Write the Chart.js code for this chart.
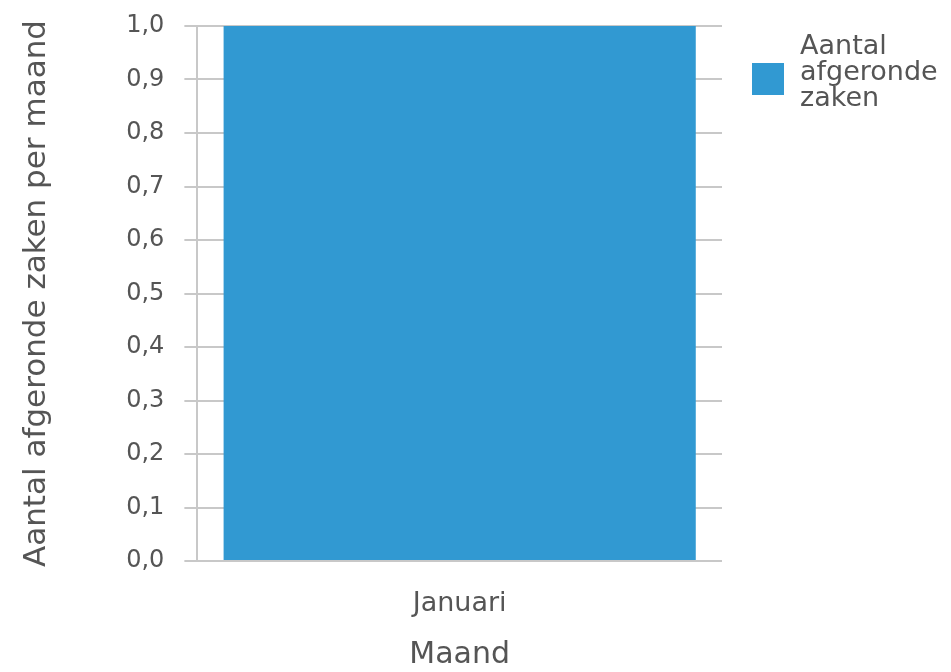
<!DOCTYPE html>
<html>
<head>
<meta charset="utf-8">
<script src="https://cdn.jsdelivr.net/npm/chart.js@4/dist/chart.umd.min.js"></script>
<style>
	body{ margin:0; background:#fff; }
	#wrap{ width:951px; height:672px; }
</style>
</head>
<body>
<div id="wrap"><canvas id="myChart" width="951" height="672"></canvas></div>
<script>

const months = ["Januari"];
const closedCases = [1];
const seriesLabel = ["Aantal", "afgeronde", "zaken"];

const barColor = "#3199d2";
const textColor = "#555";
const gridColor = "#c8c8c8";
const fontName = "'DejaVu Sans', sans-serif";

// legend drawn by hand so the label can wrap over three lines
let sideLegend = {
	id: "sideLegend",
	afterDraw(chart){
		let ctx = chart.ctx;
		let area = chart.chartArea;
		ctx.save();
		ctx.fillStyle = chart.data.datasets[0].backgroundColor;
		ctx.fillRect(area.right + 30, 63, 32, 32);
		ctx.fillStyle = textColor;
		ctx.font = "27px " + fontName;
		ctx.textBaseline = "middle";
		for(let i = 0; i < seriesLabel.length; i++){
			ctx.fillText(seriesLabel[i], area.right + 78, 47 + i * 26);
		}
		ctx.restore();
	}
};

function commaTick(v){
	return v.toFixed(1).replace(".", ",");
}

const ctx = document.getElementById("myChart").getContext("2d");

let chart = new Chart(ctx, {
	type: "bar",
	data: {
		labels: months,
		datasets: [{
			label: seriesLabel.join(" "),
			data: closedCases,
			backgroundColor: barColor,
			borderWidth: 0,
			barPercentage: 0.9,
			categoryPercentage: 1.0
		}]
	},
	options: {
		responsive: false,
		animation: false,
		layout: { padding: { left: 14, right: 229, top: 0, bottom: 0 } },
		plugins: {
			legend: { display: false },
			tooltip: { enabled: false }
		},
		scales: {
			x: {
				grid: { display: false, drawTicks: false },
				border: { display: false },
				ticks: { color: textColor, font: { family: fontName, size: 27 }, padding: 27 },
				title: { display: true, text: "Maand", color: textColor, font: { family: fontName, size: 30, lineHeight: 1.1 }, padding: { top: 0, bottom: 0 } },
				afterFit: function(scale){ scale.height = 111; }
			},
			y: {
				min: 0,
				max: 1,
				ticks: {
					stepSize: 0.1,
					color: textColor,
					font: { family: fontName, size: 24 },
					padding: 20,
					callback: commaTick
				},
				grid: { color: gridColor, lineWidth: 2, tickLength: 13 },
				border: { color: gridColor, width: 2 },
				title: { display: true, text: "Aantal afgeronde zaken per maand", color: textColor, font: { family: fontName, size: 31 }, padding: { top: 4, bottom: 51 } },
				afterFit: function(scale){ scale.paddingTop = 26; scale.paddingBottom = 0; }
			}
		}
	},
	plugins: [sideLegend]
});
</script>
</body>
</html>
